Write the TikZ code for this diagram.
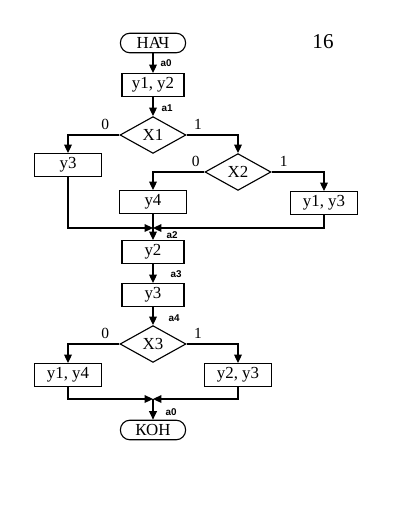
\documentclass[tikz,border=0pt]{standalone}
\usepackage{fontspec}
\setmainfont{Liberation Serif}
\newfontfamily\lblfont{Liberation Sans}
\usetikzlibrary{shapes.geometric,arrows.meta}

\tikzset{
  opbox/.style={draw, rectangle, minimum width=1.66cm, minimum height=0.57cm, inner sep=0pt, font=\fontsize{12}{14}\selectfont},
  narrowbox/.style={opbox, minimum width=1.55cm},
  condbox/.style={draw, diamond, minimum width=1.65cm, minimum height=0.92cm, inner sep=0pt, font=\fontsize{12}{14}\selectfont},
  termbox/.style={draw, rectangle, rounded corners=2.4mm, minimum width=1.63cm, minimum height=0.49cm, inner sep=0pt, font=\fontsize{12}{14}\selectfont},
  nolbl/.style={font=\fontsize{11}{13}\selectfont, inner sep=0pt, anchor=south east, yshift=3.5pt},
  yeslbl/.style={font=\fontsize{11}{13}\selectfont, inner sep=0pt, anchor=south west, yshift=3.5pt},
  statelbl/.style={font=\lblfont\bfseries\fontsize{7}{8}\selectfont, anchor=west, inner sep=0pt}
}

\begin{document}
\begin{tikzpicture}[x=0.025cm, y=-0.025cm, line width=0.8pt, >={Triangle[length=6pt,width=5.5pt]}]
    \useasboundingbox (0,0) rectangle (411,516);

    % Number of the variant
    \node[font=\fontsize{15}{17}\selectfont] (num) at (323,42) {16};

    % Blocks
    \node[termbox] (start) at (153,43) {НАЧ};
    \node[narrowbox] (b1) at (153,85) {y1, y2};
    \node[condbox] (x1) at (153,135) {X1};
    \node[opbox] (b2) at (68,165) {y3};
    \node[condbox] (x2) at (238,172) {X2};
    \node[opbox] (b3) at (153,202) {y4};
    \node[opbox] (b4) at (324,203) {y1, y3};
    \coordinate (m1) at (153,228);
    \node[narrowbox] (b5) at (153,252) {y2};
    \node[narrowbox] (b6) at (153,295) {y3};
    \node[condbox] (x3) at (153,344) {X3};
    \node[opbox] (b7) at (68,375) {y1, y4};
    \node[opbox] (b8) at (238,375) {y2, y3};
    \coordinate (m2) at (153,399);
    \node[termbox] (stop) at (153,430) {КОН};

    % Connectors
    \draw[->] (start) -- (b1);
    \draw[->] (b1) -- (x1);
    \draw[->] (x1.west) -| (b2.north);
    \draw[->] (x1.east) -| (x2.north);
    \draw[->] (x2.west) -| (b3.north);
    \draw[->] (x2.east) -| (b4.north);
    \draw[->] (b2.south) |- (m1);
    \draw[->] (b4.south) |- (m1);
    \draw[->] (b3) -- (b5);
    \draw[->] (b5) -- (b6);
    \draw[->] (b6) -- (x3);
    \draw[->] (x3.west) -| (b7.north);
    \draw[->] (x3.east) -| (b8.north);
    \draw[->] (b7.south) |- (m2);
    \draw[->] (b8.south) |- (m2);
    \draw[->] (m2) -- (stop);

    % Branch labels
    \node[nolbl, xshift=-7pt] (x1no) at (x1.west) {0};
    \node[yeslbl, xshift=5pt] (x1yes) at (x1.east) {1};
    \node[nolbl, xshift=-3pt] (x2no) at (x2.west) {0};
    \node[yeslbl, xshift=5.5pt] (x2yes) at (x2.east) {1};
    \node[nolbl, xshift=-7pt] (x3no) at (x3.west) {0};
    \node[yeslbl, xshift=5pt] (x3yes) at (x3.east) {1};

    % State marks
    \node[statelbl] (s0) at (160,63) {a0};
    \node[statelbl] (s1) at (161,108) {a1};
    \node[statelbl] (s2) at (166,235) {a2};
    \node[statelbl] (s3) at (170,274) {a3};
    \node[statelbl] (s4) at (168,318) {a4};
    \node[statelbl] (s0b) at (165,412) {a0};
\end{tikzpicture}
\end{document}
